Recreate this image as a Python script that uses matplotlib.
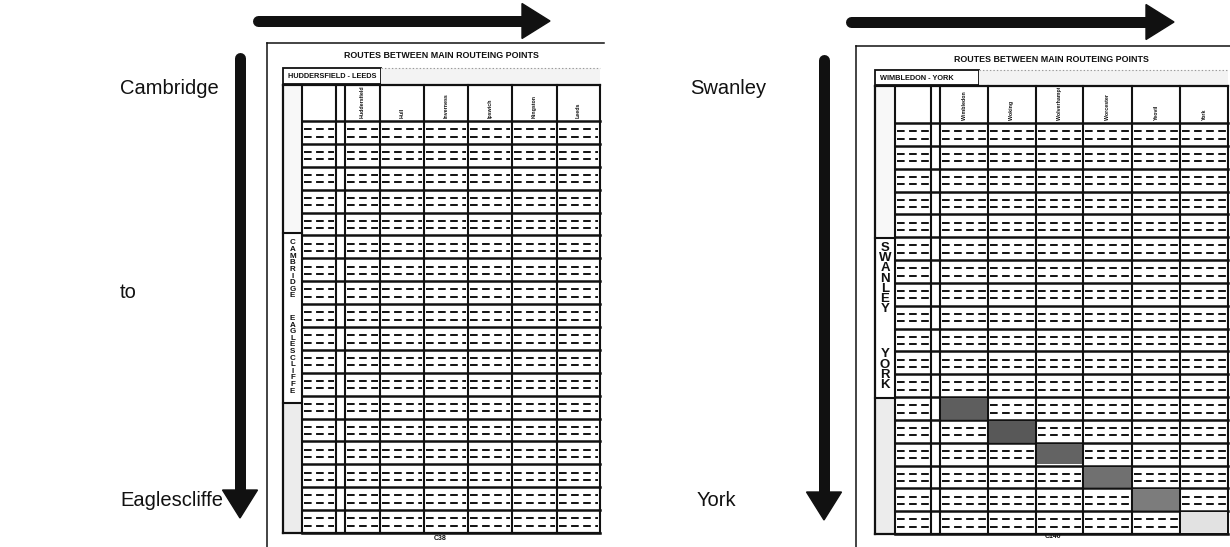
#!/usr/bin/env python3
"""Two scanned route-table pages with direction arrows, redrawn in matplotlib."""

import matplotlib
matplotlib.use("Agg")
import matplotlib.pyplot as plt
from matplotlib.patches import Polygon, Rectangle
from matplotlib.transforms import Bbox, TransformedBbox

plt.rcParams["font.family"] = ["Liberation Sans", "DejaVu Sans"]
plt.rcParams["lines.scale_dashes"] = False

# ---- content --------------------------------------------------------------
TITLE = "ROUTES BETWEEN MAIN ROUTEING POINTS"
N_ROWS = 18

LEFT_NAME = "HUDDERSFIELD - LEEDS"
LEFT_COLS = ["Huddersfield", "Hull", "Inverness", "Ipswich", "Kingston", "Leeds"]
LEFT_SIDE = ["CAMBRIDGE", "EAGLESCLIFFE"]
LEFT_PAGE = "C38"
LEFT_FROM, LEFT_TO = "Cambridge", "Eaglescliffe"

RIGHT_NAME = "WIMBLEDON - YORK"
RIGHT_COLS = ["Wimbledon", "Woking", "Wolverhampton", "Worcester", "Yeovil", "York"]
RIGHT_SIDE = ["SWANLEY", "YORK"]
RIGHT_PAGE = "C140"
RIGHT_FROM, RIGHT_TO = "Swanley", "York"

# shaded (row, column) cells on the right page: the diagonal at the bottom
RIGHT_SHADED_ROWS = [12, 13, 14, 15, 16, 17]
RIGHT_SHADED_COLS = [0, 1, 2, 3, 4, 5]
RIGHT_SHADED_TONE = ["#5e5e5e", "#585858", "#636363", "#707070", "#7c7c7c", "#e2e2e2"]

W, H = 1230, 547
fig = plt.figure(figsize=(W / 100, H / 100), dpi=100)
ax = fig.add_axes([0, 0, 1, 1])
ax.set_xlim(0, W)
ax.set_ylim(H, 0)
ax.axis("off")

BLACK = "#111111"


def arrow(x0, y0, x1, y1, shaft=11, head_w=35, head_l=28):
    """Thick arrow with a rounded tail, from (x0,y0) to tip (x1,y1)."""
    if y0 == y1:
        bx = x1 - head_l
        ax.plot([x0, bx + 2], [y0, y0], color=BLACK, lw=shaft * 0.72,
                solid_capstyle="round", zorder=5)
        ax.add_patch(Polygon([[bx, y0 - head_w / 2], [x1, y0], [bx, y0 + head_w / 2]],
                             closed=True, color=BLACK, zorder=5))
    else:
        by = y1 - head_l
        ax.plot([x0, x0], [y0, by + 2], color=BLACK, lw=shaft * 0.72,
                solid_capstyle="round", zorder=5)
        ax.add_patch(Polygon([[x0 - head_w / 2, by], [x0, y1], [x0 + head_w / 2, by]],
                             closed=True, color=BLACK, zorder=5))


def page(frame_x, frame_top, frame_right, vlines, name_box, header, rows_y,
         side_box, name, cols, side_words, side_fs, side_step, side_gap,
         page_label, page_xy):
    x0, x1 = vlines[0], vlines[-1]
    # page frame
    ax.plot([frame_x, frame_x], [frame_top, H], color=BLACK, lw=1.1)
    ax.plot([frame_x, frame_right], [frame_top, frame_top], color=BLACK, lw=1.1)
    ax.text((x0 + x1) / 2, frame_top + 13, TITLE, ha="center", va="center",
            fontsize=6.4, fontweight="bold", color=BLACK)

    # name box + grey strip
    ny0, ny1, nx1 = name_box
    ax.add_patch(Rectangle((x0, ny0), nx1 - x0, ny1 - ny0, fill=False,
                           ec=BLACK, lw=1.3))
    ax.add_patch(Rectangle((nx1, ny0), x1 - nx1, ny1 - ny0, fc="#f3f3f3",
                           ec="none"))
    ax.plot([nx1, x1], [ny0, ny0], color="#9a9a9a", lw=0.8, ls=(0, (1, 1.5)))
    ax.text(x0 + 5, (ny0 + ny1) / 2 + 0.5, name, ha="left", va="center",
            fontsize=5.3, fontweight="bold", color=BLACK)

    hy0, hy1 = header
    ry0, ry1 = rows_y
    rh = (ry1 - ry0) / N_ROWS

    # table outline and verticals
    ax.plot([x0, x1], [hy0, hy0], color=BLACK, lw=1.6)
    ax.plot([x0, x0], [hy0, ry1], color=BLACK, lw=1.6)
    ax.plot([x0, x1], [ry1, ry1], color=BLACK, lw=1.6)
    for vx in vlines[1:]:
        ax.plot([vx, vx], [hy0, ry1], color=BLACK, lw=1.5)

    # column headings, clipped to their header cell
    for i, c in enumerate(cols):
        a, b = vlines[3 + i], vlines[4 + i]
        t = ax.text((a + b) / 2, hy1 - 3, c, rotation=90, ha="center",
                    va="bottom", fontsize=3.8, fontweight="bold", color=BLACK)
        t.set_clip_box(TransformedBbox(Bbox([[a, hy0 + 1.5], [b, hy1]]),
                                       ax.transData))
        t.set_clip_on(True)

    # rows
    dash_cols = [(vlines[1], vlines[2])] + [(vlines[3 + i], vlines[4 + i])
                                            for i in range(len(cols))]
    for r in range(N_ROWS + 1):
        y = ry0 + r * rh
        ax.plot([vlines[1], x1], [y, y], color=BLACK, lw=1.8)
    for r in range(N_ROWS):
        top = ry0 + r * rh
        for a, b in dash_cols:
            for f in (0.36, 0.68):
                ax.plot([a + 2, b - 2], [top + f * rh] * 2, color=BLACK,
                        lw=1.4, dashes=(5.5, 3.2))

    # side column: label box and speckled lower part
    sy0, sy1 = side_box
    sx0, sx1 = x0, vlines[1]
    ax.add_patch(Rectangle((sx0, hy0 + 2), sx1 - sx0, sy0 - hy0 - 2,
                           fc="#f8f8f8", ec="none", zorder=1))
    ax.add_patch(Rectangle((sx0, sy1), sx1 - sx0, ry1 - sy1,
                           fc="#ececec", ec="none", zorder=1))
    ax.plot([sx0, sx1], [sy0, sy0], color=BLACK, lw=1.5)
    ax.plot([sx0, sx1], [sy1, sy1], color=BLACK, lw=1.5)
    y = sy0 + 10
    for word in side_words:
        for ch in word:
            ax.text((sx0 + sx1) / 2, y, ch, ha="center", va="center",
                    fontsize=side_fs, fontweight="bold", color=BLACK)
            y += side_step
        y += side_gap

    ax.text(page_xy[0], page_xy[1], page_label, ha="center", va="center",
            fontsize=5, fontweight="bold", color=BLACK)
    return vlines, ry0, rh


# ---- left page -----------------------------------------------------------
arrow(258, 21, 550, 21)
arrow(240, 58, 240, 518)
ax.text(120, 88, LEFT_FROM, ha="left", va="center", fontsize=14.5, color=BLACK)
ax.text(120, 293, "to", ha="left", va="center", fontsize=14.5, color=BLACK)
ax.text(120, 500, LEFT_TO, ha="left", va="center", fontsize=14.5, color=BLACK)
page(267, 43, 604, [283, 302, 336, 345, 380, 424, 468, 512, 557, 600],
     (68, 84, 381), (85, 121), (121, 533), (233, 403),
     LEFT_NAME, LEFT_COLS, LEFT_SIDE, 5.8, 6.6, 16,
     LEFT_PAGE, (440, 538))

# ---- right page ----------------------------------------------------------
arrow(851, 22, 1174, 22)
arrow(824, 60, 824, 520)
ax.text(690, 88, RIGHT_FROM, ha="left", va="center", fontsize=14.5, color=BLACK)
ax.text(697, 500, RIGHT_TO, ha="left", va="center", fontsize=14.5, color=BLACK)
rv, rry0, rrh = page(856, 46, W, [875, 895, 931, 940, 988, 1036, 1083, 1132, 1180, 1228],
                     (70, 85, 979), (86, 123), (123, 534), (238, 398),
                     RIGHT_NAME, RIGHT_COLS, RIGHT_SIDE, 9.5, 10.2, 35,
                     RIGHT_PAGE, (1053, 537))
for r, c, tone in zip(RIGHT_SHADED_ROWS, RIGHT_SHADED_COLS, RIGHT_SHADED_TONE):
    ax.add_patch(Rectangle((rv[3 + c] + 1, rry0 + r * rrh + 1), rv[4 + c] - rv[3 + c] - 2,
                           rrh - 2, fc=tone, ec="none", zorder=4))

fig.savefig("out.png", dpi=100)
